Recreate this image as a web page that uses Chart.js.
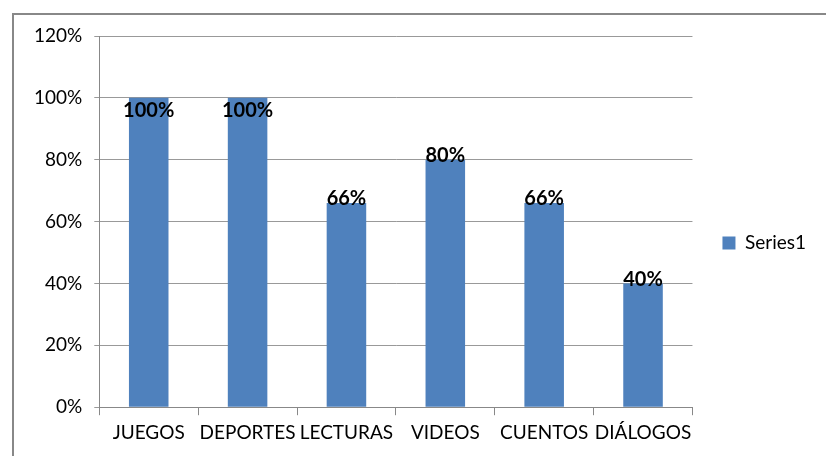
<!DOCTYPE html>
<html>
<head>
<meta charset="utf-8">
<script src="https://cdn.jsdelivr.net/npm/chart.js@4/dist/chart.umd.min.js"></script>
<style>
  body { margin: 0; background: #fff; }
  #wrap { position: relative; width: 826px; height: 456px; overflow: hidden; }
  #frame { position: absolute; left: 12px; top: 13px; width: 840px; height: 470px; border: 2px solid #888; }
  canvas { position: absolute; left: 0; top: 0; }
</style>
</head>
<body>
<div id="wrap">
  <div id="frame"></div>
  <canvas id="chart" width="826" height="456"></canvas>
</div>
<script>
// categories and values (percent)
const categories = ["JUEGOS", "DEPORTES", "LECTURAS", "VIDEOS", "CUENTOS", "DIÁLOGOS"];
const series1 = [100, 100, 66, 80, 66, 40];
const yTicks = [0, 20, 40, 60, 80, 100, 120];

const FONT = "Lato, 'Liberation Sans', sans-serif";

const barLabels = {
  id: "barLabels",
  afterDatasetsDraw(chart) {
    const ctx = chart.ctx;
    const meta = chart.getDatasetMeta(0);
    ctx.save();
    ctx.font = "bold 20px " + FONT;
    ctx.fillStyle = "#000";
    ctx.textAlign = "center";
    ctx.textBaseline = "middle";
    meta.data.forEach(function (bar, i) {
      const v = series1[i];
      let y = bar.y - 4;
      if (y - 10 < chart.chartArea.top + 62) y = bar.y + 13;
      ctx.fillText(v + "%", bar.x, y);
    });
    ctx.restore();
  }
};

new Chart(document.getElementById("chart"), {
  type: "bar",
  data: {
    labels: categories,
    datasets: [{
      label: "Series1",
      data: series1,
      backgroundColor: "#4F81BD",
      categoryPercentage: 1,
      barPercentage: 0.4
    }]
  },
  options: {
    responsive: false,
    animation: false,
    layout: { padding: { left: 22, top: 36, right: 10, bottom: 6 } },
    plugins: {
      legend: {
        position: "right",
        labels: {
          boxWidth: 13,
          boxHeight: 13,
          padding: 30,
          color: "#000",
          font: { family: FONT, size: 19 }
        }
      },
      tooltip: { enabled: false }
    },
    scales: {
      x: {
        grid: { drawOnChartArea: false, color: "#888", tickLength: 8 },
        border: { color: "#888" },
        ticks: {
          color: "#000",
          padding: 6,
          maxRotation: 0,
          autoSkip: false,
          font: { family: FONT, size: 19 }
        }
      },
      y: {
        min: 0,
        max: 120,
        afterBuildTicks(axis) { axis.ticks = yTicks.map(v => ({ value: v })); },
        grid: { color: "#999", tickLength: 5 },
        border: { color: "#888" },
        ticks: {
          color: "#000",
          padding: 12,
          callback: v => v + "%",
          font: { family: FONT, size: 19 }
        }
      }
    }
  },
  plugins: [barLabels]
});
</script>
</body>
</html>
